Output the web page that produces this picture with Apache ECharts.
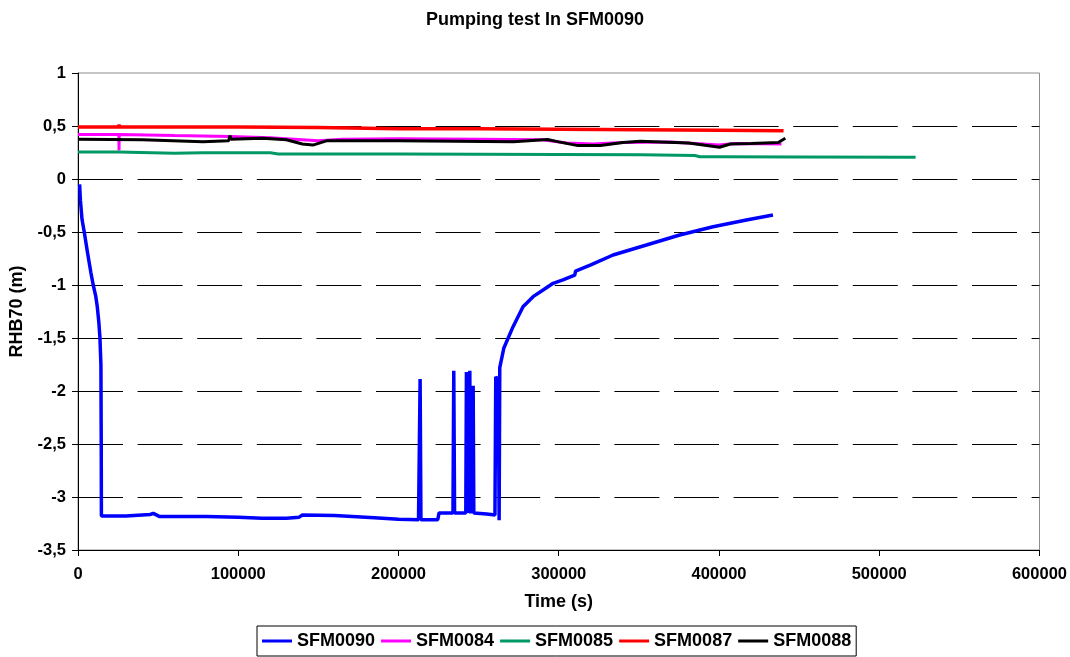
<!DOCTYPE html>
<html>
<head>
<meta charset="utf-8">
<title>Pumping test In SFM0090</title>
<script src="https://cdn.jsdelivr.net/npm/echarts@6/dist/echarts.min.js"></script>
<style>
  html, body { margin: 0; padding: 0; background: #ffffff; }
  #chart { width: 1070px; height: 657px; }
</style>
</head>
<body>
<div id="chart"></div>
<script>
// Head (RHB70, m) versus time (s) for the pumping test in SFM0090.
// Each series is a list of [time, head] pairs.
const seriesNames = ['SFM0090', 'SFM0084', 'SFM0085', 'SFM0087', 'SFM0088'];
const seriesColors = ['#0000ff', '#ff00ff', '#009966', '#ff0000', '#000000'];

const sfm0090 = [
  [1000, -0.05], [1500, -0.2], [2500, -0.38], [3900, -0.5], [6000, -0.7], [8000, -0.88],
  [9500, -1.0], [11000, -1.1], [12000, -1.2], [13000, -1.35], [13700, -1.5], [14300, -1.75],
  [14500, -2.5], [14600, -3.18], [30000, -3.18], [45000, -3.165], [47000, -3.155], [51000, -3.185],
  [80000, -3.185], [100000, -3.19], [115000, -3.2], [130000, -3.2], [138000, -3.19], [140000, -3.17],
  [160000, -3.175], [185000, -3.195], [200000, -3.21], [212500, -3.215], [213000, -3.21], [213500, -1.887],
  [214000, -3.215], [224500, -3.215], [225300, -3.15], [234000, -3.15], [234500, -1.81], [235000, -3.15],
  [242000, -3.15], [242400, -1.82], [243000, -3.15], [244000, -3.145], [244500, -1.81], [245000, -3.155],
  [246200, -3.15], [246600, -1.95], [247000, -3.15], [255000, -3.16], [260200, -3.17], [260700, -1.865],
  [262300, -1.9], [262800, -3.22], [263200, -1.78], [265700, -1.597], [271500, -1.393], [277700, -1.205],
  [284000, -1.11], [290000, -1.05], [296500, -0.984], [303000, -0.95], [310000, -0.906], [310500, -0.87],
  [320000, -0.81], [333900, -0.717], [354700, -0.623], [375500, -0.528], [396300, -0.45], [417100, -0.387],
  [433700, -0.34]
];

const sfm0084 = [
  [0, 0.42], [25500, 0.42], [25600, 0.27], [25700, 0.42], [60000, 0.41], [95000, 0.40],
  [120000, 0.39], [140000, 0.37], [150000, 0.36], [165000, 0.375], [200000, 0.38], [250000, 0.375],
  [290000, 0.37], [305000, 0.34], [321000, 0.33], [340000, 0.345], [370000, 0.35], [390000, 0.33],
  [400000, 0.32], [410000, 0.335], [439000, 0.33]
];

const sfm0085 = [
  [0, 0.255], [25500, 0.255], [26000, 0.242], [60000, 0.242], [78000, 0.248], [120000, 0.248],
  [125000, 0.236], [200000, 0.235], [300000, 0.232], [351000, 0.228], [385000, 0.222], [388000, 0.21],
  [400000, 0.21], [450000, 0.208], [522700, 0.205]
];

const sfm0087 = [
  [0, 0.49], [25500, 0.49], [25600, 0.516], [25700, 0.49], [100000, 0.49], [150000, 0.485],
  [200000, 0.475], [250000, 0.475], [300000, 0.47], [350000, 0.465], [400000, 0.46], [440300, 0.456]
];

const sfm0088 = [
  [0, 0.375], [40000, 0.37], [78000, 0.352], [94000, 0.36], [94800, 0.41], [95500, 0.375],
  [115000, 0.384], [130000, 0.37], [140000, 0.33], [146600, 0.32], [155000, 0.36], [200000, 0.36],
  [271700, 0.352], [293000, 0.372], [300000, 0.35], [312000, 0.315], [326000, 0.315], [340000, 0.345],
  [351000, 0.355], [381000, 0.34], [400400, 0.30], [407000, 0.33], [420000, 0.336], [437000, 0.345],
  [441400, 0.385]
];

const seriesData = [sfm0090, sfm0084, sfm0085, sfm0087, sfm0088];
const lineWidths = [3.5, 3, 3, 3.5, 3];

const FONT = '"Liberation Sans", Arial, Helvetica, sans-serif';

const chart = echarts.init(document.getElementById('chart'), null, { renderer: 'canvas' });

chart.setOption({
  animation: false,
  backgroundColor: '#ffffff',
  title: {
    text: 'Pumping test In SFM0090',
    left: 'center',
    top: 6,
    textStyle: { fontFamily: FONT, fontSize: 18, fontWeight: 'bold', color: '#000' }
  },
  grid: {
    left: 78, right: 30, top: 73, bottom: 107,
    show: true, borderColor: '#8c8c8c', borderWidth: 1, backgroundColor: 'transparent'
  },
  legend: {
    bottom: 1,
    left: 257,
    data: seriesNames,
    icon: 'rect',
    itemWidth: 30,
    itemHeight: 3,
    itemGap: 6,
    padding: [6, 5],
    borderColor: '#000',
    borderWidth: 1,
    textStyle: { fontFamily: FONT, fontSize: 18, fontWeight: 'bold', color: '#000' }
  },
  xAxis: {
    type: 'value',
    min: 0, max: 600000, interval: 100000,
    name: 'Time (s)',
    nameLocation: 'middle',
    nameGap: 43,
    nameTextStyle: { fontFamily: FONT, fontSize: 18, fontWeight: 'bold', color: '#000' },
    axisLine: { show: true, onZero: false, lineStyle: { color: '#000', width: 1 } },
    axisTick: { show: true, inside: false, length: 6, lineStyle: { color: '#000' } },
    axisLabel: {
      fontFamily: FONT, fontSize: 16.5, fontWeight: 'bold', color: '#000', margin: 16,
      formatter: v => String(v)
    },
    splitLine: { show: false }
  },
  yAxis: {
    type: 'value',
    min: -3.5, max: 1, interval: 0.5,
    name: 'RHB70 (m)',
    nameLocation: 'middle',
    nameGap: 52,
    nameTextStyle: { fontFamily: FONT, fontSize: 18, fontWeight: 'bold', color: '#000' },
    axisLine: { show: true, lineStyle: { color: '#000', width: 1 } },
    axisTick: { show: true, inside: false, length: 6, lineStyle: { color: '#000' } },
    axisLabel: {
      fontFamily: FONT, fontSize: 16.5, fontWeight: 'bold', color: '#000', margin: 12,
      formatter: v => String(v).replace('.', ',')
    },
    splitLine: {
      show: true,
      showMinLine: false,
      showMaxLine: false,
      lineStyle: { color: '#000', width: 1, type: [45, 14.6] }
    }
  },
  series: seriesNames.map((name, i) => ({
    name: name,
    type: 'line',
    data: seriesData[i],
    showSymbol: false,
    symbol: 'none',
    color: seriesColors[i],
    lineStyle: { color: seriesColors[i], width: lineWidths[i] },
    itemStyle: { color: seriesColors[i] }
  }))
});
</script>
</body>
</html>
